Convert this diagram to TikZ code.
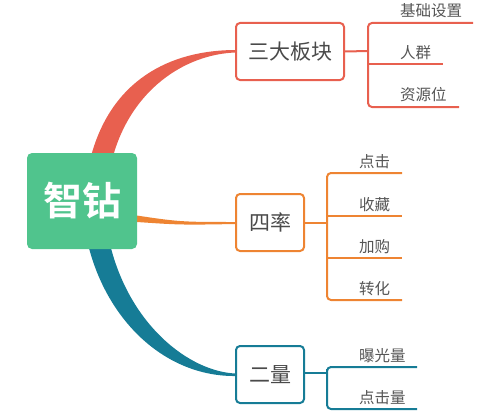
\documentclass[tikz,border=0pt]{standalone}
\usepackage{fontspec}
\setmainfont{Noto Sans CJK SC}
\newfontfamily\cjkb{Noto Sans CJK SC Bold}
\definecolor{cred}{HTML}{E8604F}
\definecolor{corange}{HTML}{EE8432}
\definecolor{cteal}{HTML}{167C96}
\definecolor{cgreen}{HTML}{50C48D}
\definecolor{ctext}{HTML}{4A4A4A}
\definecolor{cleaf}{HTML}{555555}
\begin{document}
\begin{tikzpicture}[x=1pt,y=-1pt,
  mainbox/.style={draw=#1, line width=2pt, rounded corners=4pt, fill=white,
    minimum height=57pt, inner sep=0pt, font=\fontsize{21}{21}\selectfont, text=ctext},
  leaf/.style={anchor=west, inner sep=0pt, font=\fontsize{15.5}{16}\selectfont, text=cleaf},
  bline/.style={draw=#1, line width=2pt, rounded corners=4pt},
]
\useasboundingbox (0,0) rectangle (487,420);

% tapered main curves
\fill[cred] (90,160) .. controls (110,80) and (170,50) .. (236,50)
  -- (236,52.5) .. controls (185,54) and (130,90) .. (112,160) -- cycle;
\fill[corange] (130,214.5) .. controls (180,222) .. (236,222)
  -- (236,224) .. controls (180,225) .. (130,221.5) -- cycle;
\fill[cteal] (87,240) .. controls (105,320) and (165,377) .. (236,376)
  -- (236,373.5) .. controls (190,372) and (128,325) .. (109,240) -- cycle;

% central node
\node[fill=cgreen, rounded corners=5pt, minimum width=110pt, minimum height=96pt,
  inner sep=0pt, text=white, font=\cjkb\fontsize{39}{39}\selectfont] (root) at (82,201) {智钻};

% main boxes
\node[mainbox=cred, minimum width=108pt] (sd) at (290,51.5) {三大板块};
\node[mainbox=corange, minimum width=68pt] (sl) at (270,222.5) {四率};
\node[mainbox=cteal, minimum width=68pt] (el) at (270,374.5) {二量};

% --- red branch
\coordinate (rj) at (368,51);
\coordinate (r1) at (473,23);
\coordinate (r2) at (443,64);
\coordinate (r3) at (459,107);
\draw[bline=cred] (sd.east) -- (rj);
\draw[bline=cred] (r1) -| (rj) |- (r3);
\draw[bline=cred] (rj |- r2) -- (r2);
\node[leaf] (l1) at (400,11) {基础设置};
\node[leaf] (l2) at (400,52.5) {人群};
\node[leaf] (l3) at (400,95) {资源位};

% --- orange branch
\coordinate (oj) at (327,222.5);
\coordinate (o1) at (402,173);
\coordinate (o2) at (402,216);
\coordinate (o3) at (402,258);
\coordinate (o4) at (402,300);
\draw[bline=corange] (sl.east) -- (oj);
\draw[bline=corange] (o1) -| (oj) |- (o4);
\draw[bline=corange] (oj |- o2) -- (o2);
\draw[bline=corange] (oj |- o3) -- (o3);
\node[leaf] (m1) at (359,162) {点击};
\node[leaf] (m2) at (359,204.5) {收藏};
\node[leaf] (m3) at (359,247) {加购};
\node[leaf] (m4) at (359,289) {转化};

% --- teal branch
\coordinate (tj) at (327,373);
\coordinate (t1) at (417,367);
\coordinate (t2) at (417,409);
\draw[bline=cteal] (el.east |- tj) -- (tj);
\draw[bline=cteal] (t1) -| (tj) |- (t2);
\node[leaf] (n1) at (359,355.5) {曝光量};
\node[leaf] (n2) at (359,397.5) {点击量};
\end{tikzpicture}
\end{document}
